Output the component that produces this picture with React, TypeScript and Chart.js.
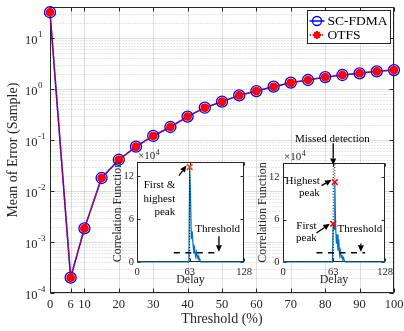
import React, { useEffect, useRef } from 'react';
import { Chart, registerables } from 'chart.js';

Chart.register(...registerables);

// ---------------- data ----------------
const thresholdPct = [0, 6, 10, 15, 20, 25, 30, 35, 40, 45, 50, 55, 60, 65, 70, 75, 80, 85, 90, 95, 100];
const scFdmaMeanError = [32, 0.0002, 0.00185, 0.018, 0.041, 0.074, 0.12, 0.18, 0.288, 0.43, 0.565, 0.75, 0.91, 1.11, 1.33, 1.5, 1.71, 1.88, 2.03, 2.22, 2.35];
const otfsMeanError = [32, 0.0002, 0.00185, 0.018, 0.041, 0.074, 0.12, 0.18, 0.288, 0.43, 0.565, 0.75, 0.91, 1.11, 1.33, 1.5, 1.71, 1.88, 2.03, 2.22, 2.35];
const seriesNames = ['SC-FDMA', 'OTFS'];
const xTickValues = [0, 6, 10, 20, 30, 40, 50, 60, 70, 80, 90, 100];
const yDecadeExponents = [-4, -3, -2, -1, 0, 1];

// inset (correlation function, in units of 10^4)
const delayTicks = [0, 63, 128];
const corrTicks = [0, 6, 12];

const inset1Delay = [0, 62, 63, 64, 65, 66, 67, 68, 69, 70, 71, 72, 73, 74, 75, 76, 128];
const inset1Corr = [0, 0, 13.3, 9.5, 3.2, 4.3, 2.5, 1.2, 1.8, 0.8, 1.4, 0.6, 0.9, 0.3, 0.4, 0, 0];
const inset1PeakDelay = [63];
const inset1PeakCorr = [13.3];
const inset1GuideDelay = [63];
const inset1GuideFrom = [0];
const inset1GuideTo = [13.3];
const inset1ThresholdDelay = [44, 99];
const inset1ThresholdCorr = [1.3, 1.3];

const inset2Delay = [0, 62, 63, 64, 65, 66, 67, 68, 69, 70, 71, 72, 73, 74, 75, 76, 77, 78, 128];
const inset2Corr = [0, 0, 5.4, 4.6, 11.3, 5.2, 2.6, 3.9, 1.6, 3.2, 1.0, 1.6, 0.6, 1.0, 0.3, 0.6, 0.2, 0, 0];
const inset2PeakDelay = [63, 65];
const inset2PeakCorr = [5.4, 11.3];
const inset2GuideDelay = [63, 65];
const inset2GuideFrom = [0, 11.3];
const inset2GuideTo = [14, 14];
const inset2ThresholdDelay = [42, 103];
const inset2ThresholdCorr = [1.3, 1.3];

// annotations (data coordinates of each inset)
const inset1Notes = [
  { text: 'First &', x: 45.7, y: 10.8, align: 'right' },
  { text: 'highest', x: 45.7, y: 8.8, align: 'right' },
  { text: 'peak', x: 45.7, y: 7.0, align: 'right' },
  { text: 'Threshold', x: 96.5, y: 4.6, align: 'center' },
];
const inset1Arrows = [
  [50.2, 12.1, 59.1, 13.5],
  [98, 3.6, 98, 1.45],
];
const inset2Notes = [
  { text: 'Missed detection', x: 62, y: 17.4, align: 'center' },
  { text: 'Highest', x: 46.2, y: 11.5, align: 'right' },
  { text: 'peak', x: 46.2, y: 9.74, align: 'right' },
  { text: 'First', x: 29.4, y: 5.14, align: 'center' },
  { text: 'peak', x: 29.4, y: 3.37, align: 'center' },
  { text: 'Threshold', x: 96.5, y: 4.66, align: 'center' },
];
const inset2Arrows = [
  [63, 16.8, 63, 13.7],
  [48.3, 10.8, 60.9, 11.6],
  [42, 4.1, 58.7, 5.4],
  [97.7, 2.6, 97.7, 1.45],
];

// ---------------- styling ----------------
const FONT = "'Liberation Serif', 'Times New Roman', serif";
const INK = '#262626';

function drawArrow(ctx: CanvasRenderingContext2D, x1: number, y1: number, x2: number, y2: number) {
  const ang = Math.atan2(y2 - y1, x2 - x1);
  const head = 6.5;
  const hw = 3;
  const bx = x2 - head * Math.cos(ang);
  const by = y2 - head * Math.sin(ang);
  ctx.beginPath();
  ctx.moveTo(x1, y1);
  ctx.lineTo(bx, by);
  ctx.stroke();
  ctx.beginPath();
  ctx.moveTo(x2, y2);
  ctx.lineTo(bx - hw * Math.sin(ang), by + hw * Math.cos(ang));
  ctx.lineTo(bx + hw * Math.sin(ang), by - hw * Math.cos(ang));
  ctx.closePath();
  ctx.fill();
}

function drawStar(ctx: CanvasRenderingContext2D, cx: number, cy: number, r: number) {
  ctx.beginPath();
  for (let i = 0; i < 4; i++) {
    const a = (i * Math.PI) / 4;
    ctx.moveTo(cx - r * Math.cos(a), cy - r * Math.sin(a));
    ctx.lineTo(cx + r * Math.cos(a), cy + r * Math.sin(a));
  }
  ctx.stroke();
}

const mainDecor = {
  id: 'mainDecor',
  beforeDatasetsDraw(chart: any) {
    const { ctx, chartArea: a } = chart;
    const x = chart.scales.x;
    const y = chart.scales.y;
    const L = Math.round(a.left) + 0.5;
    const R = Math.round(a.right) - 0.5;
    const T = Math.round(a.top) + 0.5;
    const B = Math.round(a.bottom) - 0.5;
    ctx.save();
    ctx.lineWidth = 1;
    // minor grid
    ctx.strokeStyle = 'rgba(0,0,0,0.2)';
    ctx.setLineDash([1, 2]);
    for (const e of yDecadeExponents) {
      for (let k = 2; k <= 9; k++) {
        const v = k * Math.pow(10, e);
        if (v > y.max) break;
        const py = Math.round(y.getPixelForValue(v)) + 0.5;
        ctx.beginPath();
        ctx.moveTo(L, py);
        ctx.lineTo(R, py);
        ctx.stroke();
      }
    }
    // major grid
    ctx.setLineDash([]);
    ctx.strokeStyle = 'rgba(0,0,0,0.13)';
    for (const e of yDecadeExponents) {
      const py = Math.round(y.getPixelForValue(Math.pow(10, e))) + 0.5;
      ctx.beginPath();
      ctx.moveTo(L, py);
      ctx.lineTo(R, py);
      ctx.stroke();
    }
    for (const v of xTickValues) {
      const px = Math.round(x.getPixelForValue(v)) + 0.5;
      ctx.beginPath();
      ctx.moveTo(px, T);
      ctx.lineTo(px, B);
      ctx.stroke();
    }
    // box and ticks
    ctx.strokeStyle = INK;
    ctx.strokeRect(L, T, R - L, B - T);
    const tl = 4;
    ctx.beginPath();
    for (const v of xTickValues) {
      const px = Math.round(x.getPixelForValue(v)) + 0.5;
      ctx.moveTo(px, T);
      ctx.lineTo(px, T + tl);
      ctx.moveTo(px, B);
      ctx.lineTo(px, B - tl);
    }
    for (const e of yDecadeExponents) {
      const py = Math.round(y.getPixelForValue(Math.pow(10, e))) + 0.5;
      ctx.moveTo(L, py);
      ctx.lineTo(L + tl, py);
      ctx.moveTo(R, py);
      ctx.lineTo(R - tl, py);
    }
    ctx.stroke();
    // y tick labels 10^n
    ctx.fillStyle = INK;
    ctx.textBaseline = 'middle';
    ctx.textAlign = 'left';
    for (const e of yDecadeExponents) {
      const py = y.getPixelForValue(Math.pow(10, e));
      const bx = a.left - 25;
      ctx.font = `12.5px ${FONT}`;
      ctx.fillText('10', bx, py + 2.5);
      const w = ctx.measureText('10').width;
      ctx.font = `9px ${FONT}`;
      ctx.fillText(String(e), bx + w + 0.5, py - 3.5);
    }
    ctx.restore();
  },
  afterDatasetsDraw(chart: any) {
    const { ctx, chartArea: a } = chart;
    ctx.save();
    const w = 83;
    const h = 33;
    const right = Math.round(a.right - 4.5);
    const left = right - w;
    const top = Math.round(a.top + 3);
    ctx.fillStyle = '#ffffff';
    ctx.fillRect(left, top, w, h);
    ctx.strokeStyle = INK;
    ctx.lineWidth = 1;
    ctx.strokeRect(left + 0.5, top + 0.5, w, h);
    const rows = [top + 11, top + 25];
    const sx0 = left + 2.5;
    const sx1 = left + 17.5;
    const mx = left + 10;
    // SC-FDMA
    ctx.strokeStyle = '#0000ff';
    ctx.lineWidth = 1.5;
    ctx.beginPath();
    ctx.moveTo(sx0, rows[0]);
    ctx.lineTo(sx1, rows[0]);
    ctx.stroke();
    ctx.lineWidth = 1.3;
    ctx.beginPath();
    ctx.arc(mx, rows[0], 4.5, 0, Math.PI * 2);
    ctx.stroke();
    // OTFS
    ctx.strokeStyle = '#ff0000';
    ctx.lineWidth = 1.5;
    ctx.setLineDash([1.5, 1.5]);
    ctx.beginPath();
    ctx.moveTo(sx0, rows[1]);
    ctx.lineTo(sx1, rows[1]);
    ctx.stroke();
    ctx.setLineDash([]);
    ctx.lineWidth = 2.2;
    drawStar(ctx, mx, rows[1], 4);
    // texts
    ctx.fillStyle = '#000';
    ctx.font = `13.5px ${FONT}`;
    ctx.textBaseline = 'middle';
    ctx.textAlign = 'left';
    ctx.fillText(seriesNames[0], left + 20.5, rows[0] + 0.5);
    ctx.fillText(seriesNames[1], left + 20.5, rows[1] + 0.5);
    ctx.restore();
  },
};

function insetDecor(notes: any[], arrows: number[][], yTickPad: number) {
  return {
    id: 'insetDecor',
    beforeDatasetsDraw(chart: any) {
      const { ctx, chartArea: a } = chart;
      const x = chart.scales.x;
      const y = chart.scales.y;
      const L = Math.round(a.left) + 0.5;
      const R = Math.round(a.right) - 0.5;
      const T = Math.round(a.top) + 0.5;
      const B = Math.round(a.bottom) - 0.5;
      ctx.save();
      ctx.fillStyle = '#ffffff';
      ctx.fillRect(a.left, a.top, a.right - a.left, a.bottom - a.top);
      ctx.strokeStyle = INK;
      ctx.lineWidth = 1;
      ctx.strokeRect(L, T, R - L, B - T);
      const tl = 3;
      ctx.beginPath();
      for (const v of delayTicks) {
        const px = Math.round(x.getPixelForValue(v)) + 0.5;
        ctx.moveTo(px, T);
        ctx.lineTo(px, T + tl);
        ctx.moveTo(px, B);
        ctx.lineTo(px, B - tl);
      }
      for (const v of corrTicks) {
        const py = Math.round(y.getPixelForValue(v)) + 0.5;
        ctx.moveTo(L, py);
        ctx.lineTo(L + tl, py);
        ctx.moveTo(R, py);
        ctx.lineTo(R - tl, py);
      }
      ctx.stroke();
      // tick labels
      ctx.fillStyle = INK;
      ctx.textBaseline = 'middle';
      ctx.font = `10.5px ${FONT}`;
      ctx.textAlign = 'center';
      for (const v of delayTicks) {
        ctx.fillText(String(v), x.getPixelForValue(v), a.bottom + 9.75);
      }
      ctx.textAlign = 'right';
      for (const v of corrTicks) {
        ctx.fillText(String(v), a.left - yTickPad, y.getPixelForValue(v));
      }
      // x10^4 exponent label
      ctx.textAlign = 'left';
      ctx.font = `11px ${FONT}`;
      ctx.fillText('×10', a.left + 1, a.top - 5.5);
      const w = ctx.measureText('×10').width;
      ctx.font = `8px ${FONT}`;
      ctx.fillText('4', a.left + 1.5 + w, a.top - 9.5);
      ctx.restore();
    },
    afterDatasetsDraw(chart: any) {
      const { ctx } = chart;
      const x = chart.scales.x;
      const y = chart.scales.y;
      ctx.save();
      ctx.fillStyle = '#000';
      ctx.strokeStyle = '#000';
      ctx.lineWidth = 1.3;
      ctx.font = `11px ${FONT}`;
      ctx.textBaseline = 'middle';
      for (const n of notes) {
        ctx.textAlign = n.align;
        ctx.fillText(n.text, x.getPixelForValue(n.x), y.getPixelForValue(n.y));
      }
      for (const ar of arrows) {
        drawArrow(
          ctx,
          x.getPixelForValue(ar[0]),
          y.getPixelForValue(ar[1]),
          x.getPixelForValue(ar[2]),
          y.getPixelForValue(ar[3])
        );
      }
      ctx.restore();
    },
  };
}

function buildMain(canvas: HTMLCanvasElement) {
  return new Chart(canvas, {
    type: 'line',
    data: {
      datasets: [
        {
          label: seriesNames[0],
          data: thresholdPct.map((t, i) => ({ x: t, y: scFdmaMeanError[i] })),
          borderColor: '#0000ff',
          borderWidth: 1.5,
          pointStyle: 'circle',
          pointRadius: 5.5,
          pointBorderColor: '#0000ff',
          pointBackgroundColor: 'rgba(0,0,0,0)',
          pointBorderWidth: 1.3,
          tension: 0,
          clip: false,
          order: 2,
        },
        {
          label: seriesNames[1],
          data: thresholdPct.map((t, i) => ({ x: t, y: otfsMeanError[i] })),
          borderColor: '#ff0000',
          borderWidth: 1.5,
          borderDash: [1.5, 1.5],
          pointStyle: 'star',
          pointRadius: 4.3,
          pointBorderColor: '#ff0000',
          pointBackgroundColor: '#ff0000',
          pointBorderWidth: 3,
          tension: 0,
          clip: false,
          order: 1,
        },
      ],
    },
    options: {
      animation: false,
      responsive: true,
      maintainAspectRatio: false,
      events: [],
      layout: { padding: { top: 6, right: 10, left: 0, bottom: 0 } },
      plugins: { legend: { display: false }, tooltip: { enabled: false } },
      scales: {
        x: {
          type: 'linear',
          min: 0,
          max: 100,
          grid: { display: false, drawTicks: false },
          border: { display: false },
          afterBuildTicks: (s: any) => {
            s.ticks = xTickValues.map((v) => ({ value: v }));
          },
          afterFit: (s: any) => {
            s.height = 38;
            s.paddingLeft = 0;
            s.paddingRight = 0;
          },
          ticks: {
            autoSkip: false,
            maxRotation: 0,
            padding: 5.5,
            color: INK,
            callback: (v: any) => String(v),
            font: { family: FONT, size: 12.5, lineHeight: 1 },
          },
          title: {
            display: true,
            text: 'Threshold (%)',
            color: INK,
            font: { family: FONT, size: 14, lineHeight: 1 },
            padding: { top: 0, bottom: 5 },
          },
        },
        y: {
          type: 'logarithmic',
          min: 1e-4,
          max: 40,
          grid: { display: false, drawTicks: false },
          border: { display: false },
          ticks: { display: false },
          afterFit: (s: any) => {
            s.width = 50;
            s.paddingTop = 0;
            s.paddingBottom = 0;
          },
          title: {
            display: true,
            text: 'Mean of Error (Sample)',
            color: INK,
            font: { family: FONT, size: 14, lineHeight: 1 },
            padding: { top: 6, bottom: 0 },
          },
        },
      },
    },
    plugins: [mainDecor],
  } as any);
}

function buildInset(canvas: HTMLCanvasElement, spec: any) {
  const datasets: any[] = [];
  datasets.push({
    data: spec.delay.map((d: number, i: number) => ({ x: d, y: spec.corr[i] })),
    borderColor: '#0072BD',
    borderWidth: 1.2,
    pointRadius: 0,
    tension: 0,
    clip: false,
    order: 3,
  });
  spec.guideDelay.forEach((d: number, i: number) => {
    datasets.push({
      data: [
        { x: d, y: spec.guideFrom[i] },
        { x: d, y: spec.guideTo[i] },
      ],
      borderColor: '#000',
      borderWidth: 1,
      borderDash: [1, 1.8],
      pointRadius: 0,
      clip: false,
      order: 2,
    });
  });
  datasets.push({
    data: spec.thrDelay.map((d: number, i: number) => ({ x: d, y: spec.thrCorr[i] })),
    borderColor: '#000',
    borderWidth: 1.5,
    borderDash: [6, 5.5],
    pointRadius: 0,
    clip: false,
    order: 2,
  });
  datasets.push({
    data: spec.peakDelay.map((d: number, i: number) => ({ x: d, y: spec.peakCorr[i] })),
    showLine: false,
    pointStyle: 'crossRot',
    pointRadius: 4,
    pointBorderWidth: 1.6,
    pointBorderColor: spec.peakColor,
    clip: false,
    order: 0,
  });
  return new Chart(canvas, {
    type: 'line',
    data: { datasets },
    options: {
      animation: false,
      responsive: true,
      maintainAspectRatio: false,
      events: [],
      layout: { padding: { top: spec.padTop, right: spec.padRight, left: 0, bottom: 0 } },
      plugins: { legend: { display: false }, tooltip: { enabled: false } },
      scales: {
        x: {
          type: 'linear',
          min: 0,
          max: 128,
          grid: { display: false, drawTicks: false },
          border: { display: false },
          ticks: { display: false },
          afterFit: (s: any) => {
            s.height = spec.xAxisHeight;
            s.paddingLeft = 0;
            s.paddingRight = 0;
          },
          title: {
            display: true,
            text: 'Delay',
            color: INK,
            font: { family: FONT, size: 12, lineHeight: 1 },
            padding: { top: 0, bottom: 3.8 },
          },
        },
        y: {
          type: 'linear',
          min: 0,
          max: 14,
          grid: { display: false, drawTicks: false },
          border: { display: false },
          ticks: { display: false },
          afterFit: (s: any) => {
            s.width = spec.yAxisWidth;
            s.paddingTop = 0;
            s.paddingBottom = 0;
          },
          title: {
            display: true,
            text: 'Correlation Function',
            color: INK,
            font: { family: FONT, size: 12, lineHeight: 1 },
            padding: { top: spec.yTitlePad, bottom: 0 },
          },
        },
      },
    },
    plugins: [insetDecor(spec.notes, spec.arrows, spec.yTickPad)],
  } as any);
}

const inset1Spec = {
  delay: inset1Delay,
  corr: inset1Corr,
  peakDelay: inset1PeakDelay,
  peakCorr: inset1PeakCorr,
  peakColor: '#e4501c',
  guideDelay: inset1GuideDelay,
  guideFrom: inset1GuideFrom,
  guideTo: inset1GuideTo,
  thrDelay: inset1ThresholdDelay,
  thrCorr: inset1ThresholdCorr,
  notes: inset1Notes,
  arrows: inset1Arrows,
  padTop: 22,
  padRight: 16,
  xAxisHeight: 28,
  yAxisWidth: 37,
  yTickPad: 3,
  yTitlePad: 12.3,
};

const inset2Spec = {
  delay: inset2Delay,
  corr: inset2Corr,
  peakDelay: inset2PeakDelay,
  peakCorr: inset2PeakCorr,
  peakColor: '#ff0000',
  guideDelay: inset2GuideDelay,
  guideFrom: inset2GuideFrom,
  guideTo: inset2GuideTo,
  thrDelay: inset2ThresholdDelay,
  thrCorr: inset2ThresholdCorr,
  notes: inset2Notes,
  arrows: inset2Arrows,
  padTop: 35,
  padRight: 15,
  xAxisHeight: 28,
  yAxisWidth: 33,
  yTickPad: 3.5,
  yTitlePad: 7.3,
};

export default function App() {
  const mainRef = useRef<HTMLCanvasElement>(null);
  const in1Ref = useRef<HTMLCanvasElement>(null);
  const in2Ref = useRef<HTMLCanvasElement>(null);

  useEffect(() => {
    const charts = [
      buildMain(mainRef.current as HTMLCanvasElement),
      buildInset(in1Ref.current as HTMLCanvasElement, inset1Spec),
      buildInset(in2Ref.current as HTMLCanvasElement, inset2Spec),
    ];
    return () => charts.forEach((c) => c.destroy());
  }, []);

  return (
    <div style={{ position: 'fixed', left: 0, top: 0, width: 404, height: 331, background: '#ffffff' }}>
      <div style={{ position: 'absolute', left: 0, top: 0, width: 404, height: 331 }}>
        <canvas ref={mainRef} />
      </div>
      <div style={{ position: 'absolute', left: 100, top: 140, width: 160, height: 150 }}>
        <canvas ref={in1Ref} />
      </div>
      <div style={{ position: 'absolute', left: 250, top: 128, width: 150, height: 162 }}>
        <canvas ref={in2Ref} />
      </div>
    </div>
  );
}
